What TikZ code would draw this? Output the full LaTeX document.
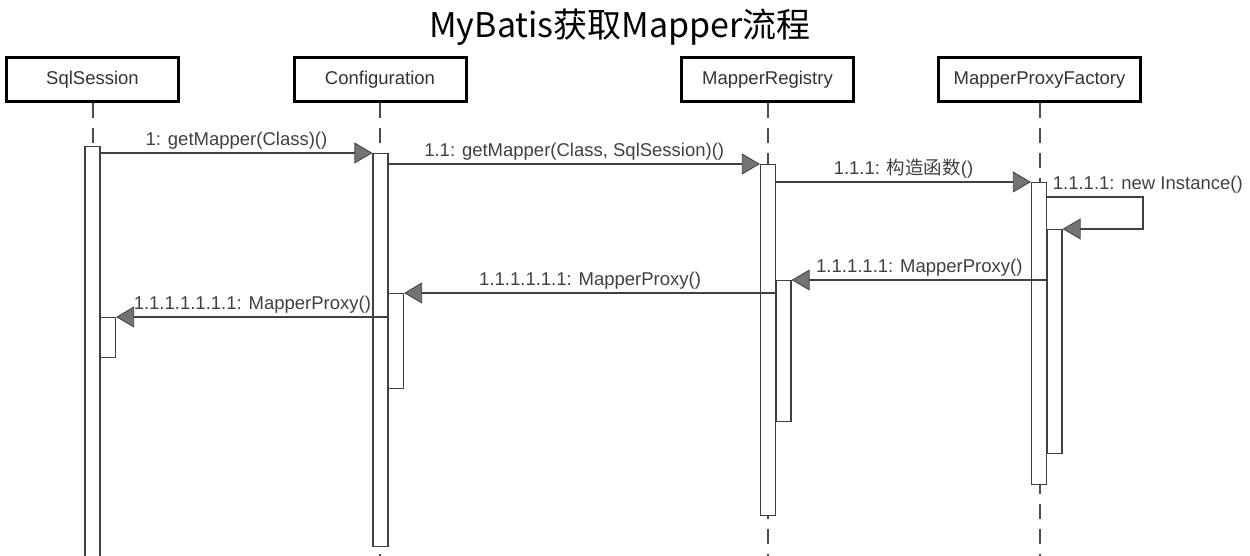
\documentclass[tikz,border=0pt]{standalone}
\usepackage{fontspec}
\setmainfont{Liberation Sans}
\newfontfamily\cjk{Noto Sans CJK SC}
\usetikzlibrary{arrows.meta}

\tikzset{
  head/.style={draw=black, line width=3pt, minimum width=172pt, minimum height=44pt, inner sep=0pt, text=black!80, font=\fontsize{18.5}{22}\selectfont},
  lifeline/.style={draw=black!70, line width=2pt, dash pattern=on 15pt off 10pt},
  bar/.style={draw=black!75, fill=white, line width=1.2pt, minimum width=15pt, inner sep=0pt, anchor=north},
  msg/.style={draw=black!75, line width=1.5pt, -{Triangle[length=18pt, width=21pt, fill=black!55, line width=0.8pt]}},
  lbl/.style={above, inner sep=1pt, yshift=2pt, text=black!75, font=\fontsize{18.5}{22}\selectfont}
}

\begin{document}
\begin{tikzpicture}[x=1pt, y=-1pt]
  \useasboundingbox (0,0) rectangle (1250,556);
  \node at (620,27) (title) {\cjk\fontsize{34}{40}\selectfont MyBatis获取Mapper流程};
  \node[head] at (92.5,80) (sqls) {SqlSession};
  \node[head] at (380,80) (conf) {Configuration};
  \node[head] at (767.5,80) (reg) {MapperRegistry};
  \node[head, minimum width=202pt] at (1039.5,80) (fac) {\raisebox{3pt}{MapperProxyFactory}};
  \foreach \x in {sqls,conf,reg,fac} \draw[lifeline] (\x.south) -- (\x.south |- 0,560);
  \node[bar, minimum height=420pt] at (92.5,146) (sqlsbar) {};
  \node[bar, minimum height=40pt] at (108,317) (sqlssub) {};
  \node[bar, minimum height=393pt] at (380.5,153) (confbar) {};
  \node[bar, minimum height=95pt] at (396,293) (confsub) {};
  \node[bar, minimum height=351pt] at (768,164) (regbar) {};
  \node[bar, minimum height=141pt] at (783.5,280) (regsub) {};
  \node[bar, minimum height=302pt] at (1039,182) (facbar) {};
  \node[bar, minimum height=224pt] at (1054.5,229) (facsub) {};
  \coordinate (loop) at (1143,197);
  % calls
  \draw[msg] (sqlsbar.east |- confbar.north) -- node[lbl] {1: getMapper(Class)()} (confbar.north west);
  \draw[msg] (confbar.east |- regbar.north) -- node[lbl] {1.1: getMapper(Class, SqlSession)()} (regbar.north west);
  \draw[msg] (regbar.east |- facbar.north) -- node[lbl] {1.1.1: {\cjk 构造函数}()} (facbar.north west);
  \draw[msg] (facbar.east |- loop) node[lbl, anchor=south west, xshift=4pt] {1.1.1.1: new Instance()} -- (loop) |- (facsub.north east);
  % returns
  \draw[msg] (facbar.east |- regsub.north) -- node[lbl] {1.1.1.1.1: MapperProxy()} (regsub.north east);
  \draw[msg] (regbar.east |- confsub.north) -- node[lbl] {1.1.1.1.1.1: MapperProxy()} (confsub.north east);
  \draw[msg] (confbar.east |- sqlssub.north) -- node[lbl] {1.1.1.1.1.1.1: MapperProxy()} (sqlssub.north east);
\end{tikzpicture}
\end{document}
